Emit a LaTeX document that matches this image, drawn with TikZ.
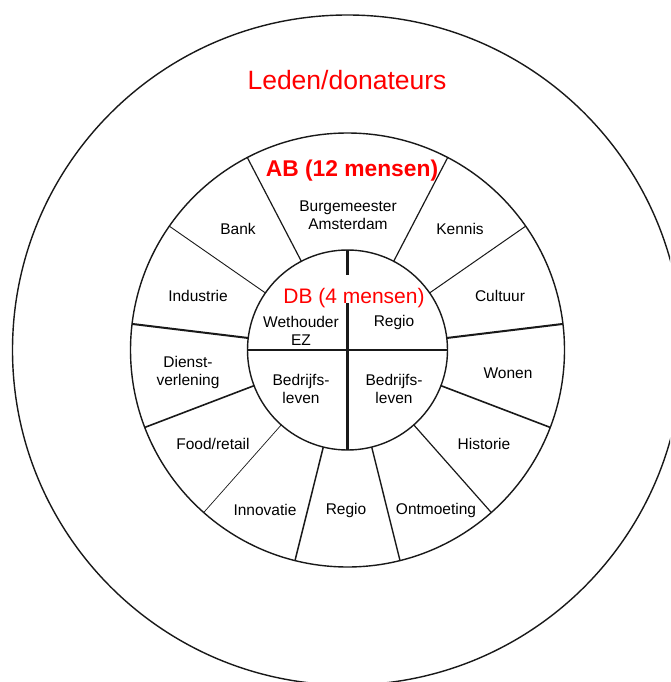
\documentclass[tikz,border=0pt]{standalone}
\usepackage{fontspec}
\setmainfont{Liberation Sans}
\usetikzlibrary{calc}
\definecolor{labelred}{RGB}{255,0,0}
\begin{document}
\begin{tikzpicture}[x=1pt,y=-1pt,
  lbl/.style={font=\fontsize{15.5}{18}\selectfont, align=center, inner sep=0pt, text=black},
  ring/.style={line width=1.4pt, draw=black!90},
  crossline/.style={line width=2.2pt, draw=black!90},
  title/.style={text=labelred, inner sep=0pt}]
\useasboundingbox (0,0) rectangle (670,682);
\clip (0,0) rectangle (670,682);
\fill[white] (0,0) rectangle (670,682);
\coordinate (c) at (347.5,350);
% rings
\draw[ring] (c) circle[radius=335pt];
\draw[ring] (c) circle[radius=217pt];
\draw[ring] (c) circle[radius=100pt];
% spokes between inner and middle ring
\foreach \a/\w in {117.5/1.2, 62.5/1.2, 34.8/1.0, 6.9/2.0, -20.9/1.6, -48.5/1.2,
                   -76/1.4, -104/1.5, -131.5/0.7, -159.1/1.6, 173.1/2.0, 145.2/0.9}
  \draw[line width=\w pt, draw=black!90] ($(c)+(-\a:100)$) -- ($(c)+(-\a:217)$);
% cross in the inner circle
\coordinate (cl) at (247.5,350);
\coordinate (cr) at (447.5,350);
\coordinate (ct) at (347.5,250);
\coordinate (ctg) at (347.5,275);
\coordinate (cbg) at (347.5,303);
\coordinate (cb) at (347.5,450);
\draw[crossline] (cl) -- (cr);
\draw[crossline] (ct) -- (ctg);
\draw[crossline] (cbg) -- (cb);
% titles
\node[title, font=\fontsize{26.5}{30}\selectfont] (leden) at (347,80) {Leden/donateurs};
\node[title, font=\fontsize{22.8}{26}\bfseries\selectfont] (ab) at (352,171) {AB (12 mensen)};
\node[title, font=\fontsize{21}{24}\selectfont] (db) at (354,298) {DB (4 mensen)};
% outer ring labels
\node[lbl] (burg) at (348,215) {Burgemeester\\Amsterdam};
\node[lbl] (bank) at (238,229) {Bank};
\node[lbl] (kennis) at (460,229) {Kennis};
\node[lbl] (industrie) at (198,296) {Industrie};
\node[lbl] (cultuur) at (500,296) {Cultuur};
\node[lbl] (dienst) at (188,372) {Dienst-\\verlening};
\node[lbl] (wonen) at (508,373) {Wonen};
\node[lbl] (food) at (213,444) {Food/retail};
\node[lbl] (historie) at (484,444) {Historie};
\node[lbl] (innovatie) at (265,510) {Innovatie};
\node[lbl] (regiob) at (346,510) {Regio};
\node[lbl] (ontmoeting) at (436,510) {Ontmoeting};
% inner circle labels
\node[lbl] (wethouder) at (301,331) {Wethouder\\EZ};
\node[lbl] (regioi) at (394,322) {Regio};
\node[lbl] (bedrl) at (301,389) {Bedrijfs-\\leven};
\node[lbl] (bedrr) at (394,389) {Bedrijfs-\\leven};
\end{tikzpicture}
\end{document}
